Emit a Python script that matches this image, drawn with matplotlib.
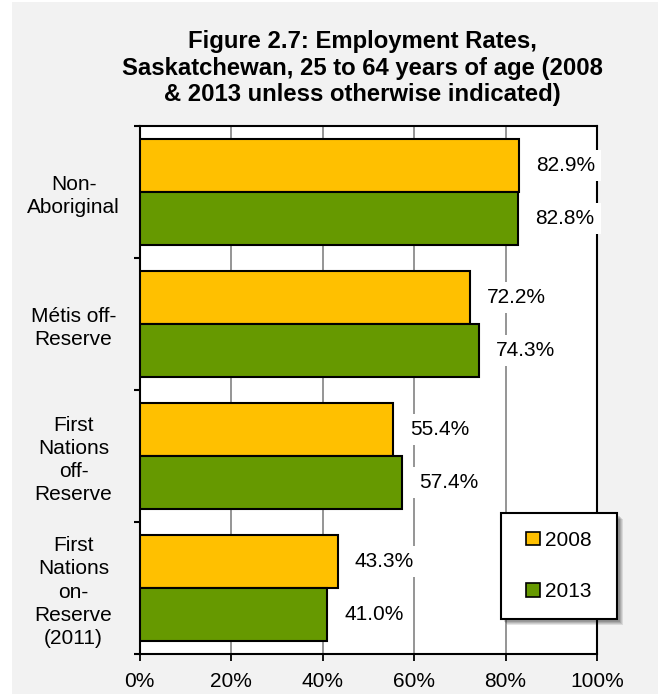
import matplotlib
matplotlib.use("Agg")
import matplotlib.pyplot as plt
from matplotlib.patches import Rectangle, Patch
import numpy as np

plt.rcParams["font.family"] = ["Liberation Sans", "DejaVu Sans"]

# Data
categories = [
    "Non-\nAboriginal",
    "Métis off-\nReserve",
    "First\nNations\noff-\nReserve",
    "First\nNations\non-\nReserve\n(2011)",
]
rates_2008 = [82.9, 72.2, 55.4, 43.3]
rates_2013 = [82.8, 74.3, 57.4, 41.0]
series_labels = ["2008", "2013"]
x_ticks = [0, 20, 40, 60, 80, 100]
x_tick_labels = ["0%", "20%", "40%", "60%", "80%", "100%"]
title = ("Figure 2.7: Employment Rates,\nSaskatchewan, 25 to 64 years of age (2008\n"
         "& 2013 unless otherwise indicated)")

YELLOW = "#FFC000"
GREEN = "#669900"
BG = "#F2F2F2"
FS = 15

W, H = 658, 695
fig = plt.figure(figsize=(W / 100, H / 100), dpi=100)
fig.patch.set_facecolor("white")


def fx(x):
    return x / W


def fy(y):
    return 1 - y / H


# chart area background
fig.patches.append(Rectangle((fx(12), fy(694)), (W - 12) / W, 692 / H,
                             transform=fig.transFigure, facecolor=BG,
                             edgecolor="none", zorder=-10))

ax = fig.add_axes([fx(139.5), fy(654), (597 - 139.5) / W, (654 - 126) / H])
ax.set_facecolor("white")

y = np.arange(len(categories))
h = 0.4
ax.barh(y - h / 2, rates_2008, height=h, color=YELLOW, edgecolor="black",
        linewidth=1.5, label=series_labels[0], zorder=3)
ax.barh(y + h / 2, rates_2013, height=h, color=GREEN, edgecolor="black",
        linewidth=1.5, label=series_labels[1], zorder=3)

ax.set_xlim(0, 100)
ax.set_ylim(len(categories) - 0.5, -0.5)
ax.set_xticks(x_ticks)
ax.set_xticklabels(x_tick_labels, fontsize=FS)
ax.xaxis.grid(True, color="#8C8C8C", linewidth=1.3)
ax.set_axisbelow(True)

ax.set_yticks(y)
ax.set_yticklabels(categories, fontsize=FS, ha="center",
                   multialignment="center", linespacing=1.27)
ax.set_yticks(np.arange(-0.5, len(categories)), minor=True)
ax.tick_params(axis="y", which="major", length=0, pad=47.5)
ax.tick_params(axis="y", which="minor", length=4.5, width=1.5, direction="out")
ax.tick_params(axis="x", length=5, width=1.3, pad=8, direction="out")
for s in ax.spines.values():
    s.set_linewidth(1.5)
    s.set_color("black")

# value labels
for ys, vals in ((y - h / 2, rates_2008), (y + h / 2, rates_2013)):
    for yi, v in zip(ys, vals):
        ax.annotate(f"{v:.1f}%", xy=(v, yi), xytext=(12.2, 0),
                    textcoords="offset points", ha="left", va="center",
                    fontsize=FS, zorder=6,
                    bbox=dict(boxstyle="square,pad=0.3", fc="white", ec="none"))

# legend box with soft shadow
lx0, ly0, lx1, ly1 = 501, 513, 617, 619
for i, a in enumerate([0.10, 0.10, 0.12, 0.14]):
    off = 6 - i
    fig.patches.append(Rectangle((fx(lx0 + off), fy(ly1 + off)), (lx1 - lx0) / W,
                                 (ly1 - ly0) / H, transform=fig.transFigure,
                                 facecolor="black", alpha=a, edgecolor="none",
                                 zorder=3.5))
fig.patches.append(Rectangle((fx(lx0), fy(ly1)), (lx1 - lx0) / W, (ly1 - ly0) / H,
                             transform=fig.transFigure, facecolor="white",
                             edgecolor="black", linewidth=1.5, zorder=4))
handles = [Patch(facecolor=YELLOW, edgecolor="black", linewidth=1.2),
           Patch(facecolor=GREEN, edgecolor="black", linewidth=1.2)]
leg = fig.legend(handles, series_labels, loc="center",
                 bbox_to_anchor=(fx((lx0 + lx1) / 2), fy((ly0 + ly1) / 2)),
                 frameon=False, fontsize=FS, handlelength=0.65,
                 handleheight=0.65, handletextpad=0.25, labelspacing=1.55)
leg.set_zorder(5)

fig.text(fx(362), fy(30), title, ha="center", va="top", fontsize=17.2,
         fontweight="bold", linespacing=1.2)

fig.savefig("out.png", dpi=100)
